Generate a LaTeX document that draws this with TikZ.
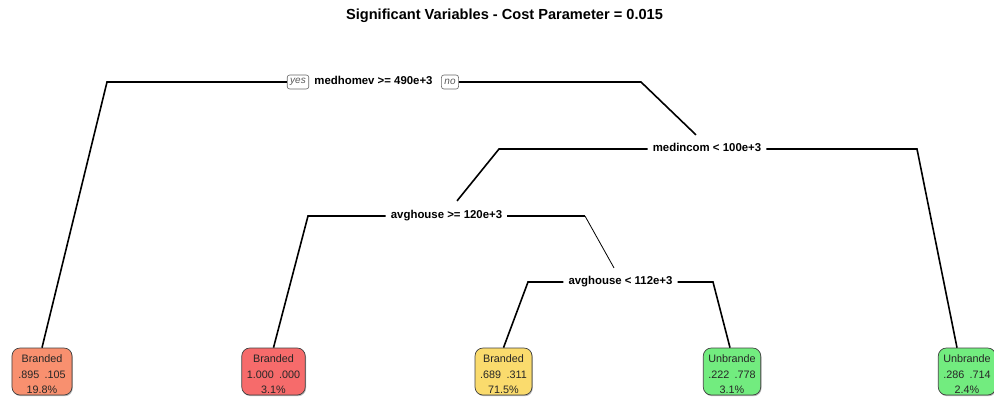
\documentclass[tikz,border=0pt]{standalone}
\usepackage{fontspec}
\setmainfont{Liberation Sans}
\usetikzlibrary{shadows}
\definecolor{leafsalmon}{HTML}{F8906F}
\definecolor{leafred}{HTML}{F66B6B}
\definecolor{leafyellow}{HTML}{FADB6D}
\definecolor{leafgreen}{HTML}{72EC7F}
% strut that lowers the leaf text inside its box
\newcommand{\leaftop}{\rule{0pt}{14bp}}
\begin{document}
\begin{tikzpicture}[x=1bp,y=-1bp,
  split/.style={font=\fontsize{11.4bp}{13bp}\selectfont\bfseries,
    text height=9bp, text depth=4.8bp, inner xsep=5bp, inner ysep=1bp},
  leaf/.style={draw=black!75, line width=0.7bp, rounded corners=8bp,
    minimum width=57bp, minimum height=47bp, inner xsep=5bp, inner ysep=0bp,
    align=center, font=\fontsize{10.8bp}{15.5bp}\selectfont, text=black!85,
    drop shadow={shadow xshift=0.8bp, shadow yshift=-1.2bp, fill=black!40, opacity=0.7}},
  yn/.style={draw=black!60, line width=0.6bp, rounded corners=2.5bp,
    font=\fontsize{10bp}{11bp}\selectfont\itshape, text=black!65,
    inner xsep=3bp, inner ysep=1.5bp, minimum height=14bp},
  branch/.style={line width=1.6bp, line join=miter},
  thinbranch/.style={line width=0.8bp}]
\useasboundingbox (0,0) rectangle (994,396);

% title
\node[font=\fontsize{14.6bp}{16bp}\selectfont\bfseries] (title) at (504.5,16)
  {Significant Variables - Cost Parameter = 0.015};

% split labels
\node[split] (root) at (373.5,82) {medhomev >= 490e+3};
\node[yn] (yes) at (298,82) {yes};
\node[yn] (no) at (450,82) {no};
\node[split] (medinc) at (707,149) {medincom < 100e+3};
\node[split] (avgA) at (446.5,216) {avghouse >= 120e+3};
\node[split] (avgB) at (620.5,282) {avghouse < 112e+3};

% leaves
\node[leaf, fill=leafsalmon, minimum width=60bp] (l1) at (42,371.5)
  {\leaftop Branded\\.895\hspace{0.5em}.105\\19.8\%};
\node[leaf, fill=leafred] (l2) at (273.5,371.5)
  {\leaftop Branded\\1.000\hspace{0.5em}.000\\3.1\%};
\node[leaf, fill=leafyellow] (l3) at (503.5,371.5)
  {\leaftop Branded\\.689\hspace{0.5em}.311\\71.5\%};
\node[leaf, fill=leafgreen] (l4) at (732,371.5)
  {\leaftop Unbrande\\.222\hspace{0.5em}.778\\3.1\%};
\node[leaf, fill=leafgreen] (l5) at (967,371.5)
  {\leaftop Unbrande\\.286\hspace{0.5em}.714\\2.4\%};

% branches
\draw[branch] (yes.west) -- (107,82) -- (l1.north);
\draw[branch] (no.east) -- (641,82) -- ([shift={(-11,-6)}]medinc.north);
\draw[branch] (medinc.west) -- (499,149) -- ([shift={(10.5,-7)}]avgA.north);
\draw[branch] (medinc.east) -- (917,149) -- ([xshift=-10bp]l5.north);
\draw[branch] (avgA.west) -- (308,216) -- (l2.north);
\draw[branch] (avgA.east) -- (585,216);
\draw[thinbranch] (585,216) -- ([shift={(-6.5,-6)}]avgB.north);
\draw[branch] (avgB.west) -- (528,282) -- (l3.north);
\draw[branch] (avgB.east) -- (713,282) -- ([xshift=-2bp]l4.north);
\end{tikzpicture}
\end{document}
